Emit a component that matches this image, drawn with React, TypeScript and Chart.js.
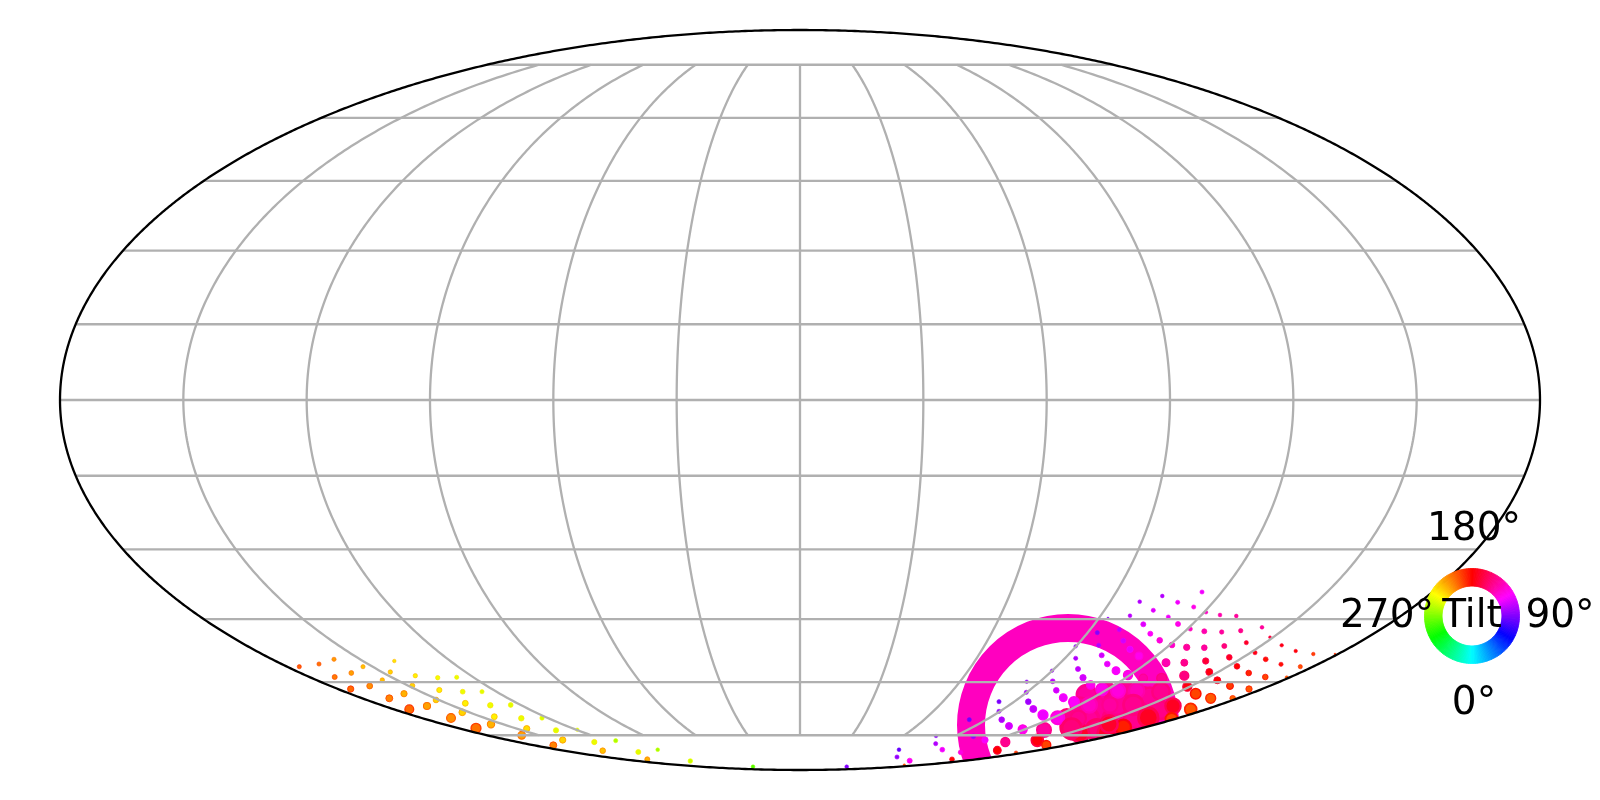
import React, { useEffect, useRef } from "react";
import { Chart, registerables } from "chart.js";

Chart.register(...registerables);

// Sky plane coordinates: [x, y, marker radius, tilt in degrees]
type Row = [number, number, number, number];

const longitudes = [-150, -120, -90, -60, -30, 0, 30, 60, 90, 120, 150];
const latitudes = [-75, -60, -45, -30, -15, 0, 15, 30, 45, 60, 75];
const tiltLabels = ["180°", "270°", "Tilt", "90°", "0°"];

const largeSource: Row[] = [[268, -325, 97, 135]];

const clusterCore: Row[] = [
  [290, -303.3, 11.7, 150], [273.3, -326.7, 11.7, 155], [303.3, -310, 13, 148],
  [316.7, -320, 13, 150], [336.7, -303.3, 12.7, 148], [346.7, -306.7, 10, 150],
  [286.7, -320, 11.7, 148], [296.7, -330, 10, 155], [336.7, -326.7, 10, 158],
  [330, -313.3, 10, 148], [286.7, -295, 9.3, 146], [306.7, -291.7, 8.7, 146],
  [326.7, -291.7, 8.7, 148], [343.3, -298.3, 10.2, 148], [266.7, -316.7, 7.2, 152],
  [280, -306.7, 8.7, 148], [316.7, -303.3, 11.6, 148], [360, -310, 8.7, 152],
  [336.7, -316.7, 11.6, 150], [306.7, -333.3, 8.7, 158], [280, -333.3, 8.7, 158],
  [350, -296.7, 8.7, 148],
];

const eastSources: Row[] = [
  [402, -192, 2, 120], [362.3, -196, 1.8, 105], [339.7, -201.7, 1.8, 105], [377.7, -202.3, 2, 120],
  [393.7, -207, 2, 128], [353.3, -210.3, 2, 116], [330, -215.7, 1.8, 107], [406, -212.3, 1.7, 136],
  [420, -215, 1.8, 142], [436.3, -216, 1.8, 146], [368.3, -217, 2, 120], [308, -218.3, 1.2, 98],
  [343.3, -224.3, 2.4, 116], [378, -224, 2.4, 128], [390.3, -229, 2, 138], [404.3, -231.3, 2.4, 142],
  [421.7, -232, 2.1, 146], [440.7, -230.7, 2.1, 150], [462, -227.3, 1.8, 146], [319.3, -229.7, 2, 109],
  [297.3, -232.7, 2, 95], [350.3, -233.7, 2.4, 124], [359.7, -240.3, 2.7, 131], [470, -237.3, 1.4, 157],
  [446.3, -242.7, 2, 161], [424.3, -246, 2.4, 154], [404.3, -247.7, 2.7, 146], [386.7, -247.3, 3, 146],
  [372, -245, 2.7, 135], [323.3, -240.7, 2.4, 113], [298.7, -245.3, 2, 105], [275.7, -246.3, 1.7, 98],
  [330, -249.3, 3, 118], [481.7, -245.3, 1.7, 165], [495.7, -251, 1.7, 169], [513.3, -254, 1.7, 184],
  [455, -252.7, 2, 165], [465.7, -259.3, 2.3, 172], [481, -264.3, 2, 172], [500.3, -266.7, 2, 188],
  [429.3, -257.3, 2.7, 161], [405.7, -261, 3, 157], [384.3, -262.7, 3.3, 150], [366, -262.7, 3.7, 142],
  [339, -256, 3.7, 128], [301.7, -255.3, 2.4, 113], [275.7, -258.3, 2, 105], [307.3, -264, 2.7, 118],
  [316, -270.7, 3.7, 122], [328, -275, 4.3, 128], [278, -269, 2.4, 109], [252, -270.7, 1.7, 98],
  [437, -266.3, 2.7, 169], [448.7, -273, 2.7, 177], [465.3, -277, 2.7, 184], [486.7, -277.3, 1.5, 191],
  [409.3, -272, 3.3, 165], [384.3, -275.7, 4.3, 154], [417.3, -280.3, 3.3, 169], [430, -286, 3.3, 182],
  [449, -289, 3, 188], [432.7, -298.3, 2.7, 191], [283, -277.7, 3, 113], [226.7, -281.7, 1.7, 98],
  [252.7, -281.3, 2.3, 107], [290.7, -285, 4, 127], [256.3, -290.3, 2.7, 113], [226.3, -292.3, 2, 101],
  [263.3, -297.7, 3.7, 120], [302, -289.3, 5.7, 128], [318, -290.7, 6.7, 132], [336.7, -290.7, 7.3, 140],
  [343.3, -278.3, 4, 145], [361.7, -278.3, 4.7, 150], [361, -291.7, 8.3, 150], [387.3, -286.7, 4.3, 165],
  [395.7, -293.7, 5, 184], [410.7, -298.3, 4.7, 189], [390.7, -309.3, 5.7, 189], [373, -306, 7.3, 160],
  [371.7, -319.3, 6, 185], [274, -302, 5, 125], [228.3, -301.7, 2.7, 101], [199, -301.7, 2, 92],
  [199, -311.3, 2, 98], [233.3, -309, 3.3, 110], [243, -315, 4.7, 120], [257.7, -317.7, 6.3, 128],
  [289.3, -305, 7.3, 138], [310, -305, 7.3, 146], [333.3, -305, 9.3, 150], [348.3, -317.7, 9.3, 160],
  [323.3, -327.3, 7.3, 175], [309, -324, 8.3, 158], [278.3, -318.3, 7.3, 150], [271.7, -328.3, 9.3, 155],
  [201.7, -319.7, 2.7, 105], [169.3, -319.7, 2, 90], [209, -326, 3.3, 113], [222.7, -329.3, 4.3, 127],
  [244, -330, 6.7, 146], [237.3, -340.3, 5.7, 165], [246.3, -345, 4.3, 184], [205.3, -342, 4.3, 150],
  [185, -340, 3, 122], [173.3, -336.3, 2.3, 100], [136, -336, 1.7, 95], [135.7, -343.7, 2, 105],
  [142.3, -349.7, 2.3, 120], [160.7, -352.3, 2.3, 130], [197.3, -350.3, 3.7, 168], [216, -352.7, 1.7, 185],
  [152, -359.3, 2.3, 170], [535, -254, 1, 185],
];

const southSources: Row[] = [
  [99, -349.7, 1.8, 87], [97, -357, 2, 98], [109.7, -360.7, 2.4, 125], [104.3, -365, 1.2, 190],
  [46.7, -366.7, 1.8, 94], [-47, -366.7, 1.8, 268], [-109.7, -361, 2.2, 242], [-142.3, -349.7, 1.8, 250],
  [-152.7, -359.3, 2.4, 210], [-161.7, -352, 2.4, 236], [-184.3, -340.7, 2, 248], [-197.3, -350.7, 2.7, 214],
  [-205.7, -342, 2.5, 234],
];

const westSources: Row[] = [
  [-500.7, -266.7, 2, 191], [-481, -264, 2, 195], [-466, -259.3, 2, 205], [-405.7, -261, 1.7, 222],
  [-437, -266.7, 2, 214], [-409.7, -272, 2.1, 218], [-465.3, -277, 2.4, 197], [-448.7, -273, 2.3, 206],
  [-417.7, -280, 2.1, 214], [-384.7, -275.7, 2.1, 225], [-362.3, -277.7, 2.1, 231], [-343.3, -277.3, 2, 234],
  [-449.3, -289, 3, 193], [-430.3, -286, 2.8, 202], [-387.7, -285.7, 2.4, 218], [-360.7, -290, 2.5, 225],
  [-337.3, -291.7, 2.3, 233], [-318, -291.7, 2, 236], [-410.7, -298.3, 3.3, 199], [-396, -293.7, 3, 210],
  [-364, -300, 2.7, 218], [-334.7, -303.3, 2.8, 225], [-309.7, -305.3, 2.6, 233], [-289.3, -305, 2.3, 236],
  [-390.7, -309.3, 4.2, 193], [-373, -306, 3.4, 206], [-337.7, -312.3, 3.2, 218], [-349, -318, 4.2, 202],
  [-305.7, -316.7, 2.8, 225], [-278.7, -318.3, 2.6, 234], [-258, -318, 2.1, 238], [-324, -328.3, 4.7, 195],
  [-309, -324.3, 3.5, 210], [-273.3, -328.7, 3, 220], [-244, -330.3, 2.5, 236], [-222.7, -329.7, 1.7, 240],
  [-278.3, -335.3, 3.7, 206], [-237.3, -340, 3, 218], [-246.7, -345.3, 3.3, 199],
];

const SEMI_X = 740;
const SEMI_Y = 370;
const RAD = Math.PI / 180;

const tiltColor = (tilt: number) => `hsl(${(180 + tilt) % 360}, 100%, 50%)`;

// Mollweide auxiliary angle
function auxAngle(lat: number): number {
  const target = Math.PI * Math.sin(lat * RAD);
  let theta = lat * RAD;
  for (let i = 0; i < 40; i++) {
    const denom = 2 + 2 * Math.cos(2 * theta);
    if (Math.abs(denom) < 1e-9) break;
    theta -= (2 * theta + Math.sin(2 * theta) - target) / denom;
  }
  return theta;
}

function project(lon: number, lat: number) {
  const t = auxAngle(lat);
  return { x: (SEMI_X * lon * Math.cos(t)) / 180, y: SEMI_Y * Math.sin(t) };
}

function sweep(from: number, to: number, step: number): number[] {
  const out: number[] = [];
  for (let v = from; v <= to + 1e-9; v += step) out.push(v);
  return out;
}

// a tiny tension keeps Chart.js off its integer-snapped fast line path
const lineBase = { showLine: true, pointRadius: 0, tension: 0.001, borderJoinStyle: "round", fill: false, clip: false, parsing: false };

function App() {
  const mapRef = useRef<HTMLCanvasElement>(null);
  const wheelRef = useRef<HTMLCanvasElement>(null);

  useEffect(() => {
    document.body.style.margin = "0";

    const gridSets: any[] = [];
    for (const lon of longitudes) {
      gridSets.push({
        ...lineBase,
        data: sweep(-75, 75, 1).map((lat) => project(lon, lat)),
        borderColor: "#b0b0b0",
        borderWidth: 2.3,
        order: 2,
      });
    }
    for (const lat of latitudes) {
      gridSets.push({
        ...lineBase,
        data: [project(-180, lat), project(180, lat)],
        borderColor: "#b0b0b0",
        borderWidth: 2.3,
        order: 2,
      });
    }

    const outline = {
      ...lineBase,
      data: sweep(0, 360, 0.5).map((a) => ({
        x: SEMI_X * Math.cos(a * RAD),
        y: SEMI_Y * Math.sin(a * RAD),
      })),
      borderColor: "#000000",
      borderWidth: 2.3,
      order: 1,
    };

    const rows = [...clusterCore, ...eastSources, ...southSources, ...westSources];
    const sources = {
      data: rows.map(([x, y]) => ({ x, y })),
      pointRadius: rows.map(([, , r]) => r * 1.05),
      pointBorderWidth: rows.map(([, , r]) => r * 0.3),
      pointBorderColor: rows.map(([, , , t]) => tiltColor(t)),
      pointBackgroundColor: rows.map(([, , , t]) => tiltColor(t > 155 ? t + 12 : t - 4)),
      showLine: false,
      clip: false,
      parsing: false,
      order: 3,
      isMark: true,
    };

    const ring = {
      data: largeSource.map(([x, y]) => ({ x, y })),
      pointRadius: largeSource.map(([, , r]) => r),
      pointBorderWidth: largeSource.map(() => 28),
      pointBorderColor: largeSource.map(([, , , t]) => tiltColor(t)),
      pointBackgroundColor: "rgba(0,0,0,0)",
      showLine: false,
      clip: false,
      parsing: false,
      order: 4,
      isMark: true,
    };

    const clipToMap = {
      id: "clipToMap",
      beforeDatasetDraw(chart: any, args: any) {
        if (!chart.data.datasets[args.index].isMark) return;
        const { ctx, scales } = chart;
        const cx = scales.x.getPixelForValue(0);
        const cy = scales.y.getPixelForValue(0);
        const rx = scales.x.getPixelForValue(SEMI_X) - cx;
        const ry = cy - scales.y.getPixelForValue(SEMI_Y);
        ctx.save();
        ctx.beginPath();
        ctx.ellipse(cx, cy, rx, ry, 0, 0, Math.PI * 2);
        ctx.clip();
      },
      afterDatasetDraw(chart: any, args: any) {
        if (chart.data.datasets[args.index].isMark) chart.ctx.restore();
      },
    };

    const map = new Chart(mapRef.current!, {
      type: "scatter",
      data: { datasets: [outline, ...gridSets, sources, ring] as any },
      options: {
        animation: false,
        responsive: false,
        events: [],
        layout: { padding: 0, autoPadding: false },
        plugins: { legend: { display: false }, tooltip: { enabled: false } },
        scales: {
          x: { type: "linear", min: -800, max: 800, display: false },
          y: { type: "linear", min: -400, max: 400, display: false },
        },
      },
      plugins: [clipToMap],
    });

    const wedgeTilts = sweep(0, 358, 2).map((v) => 360 - v);
    const wedgeColors = wedgeTilts.map(tiltColor);

    const wheelLabels = {
      id: "wheelLabels",
      afterDraw(chart: any) {
        const { ctx, chartArea } = chart;
        const cx = (chartArea.left + chartArea.right) / 2;
        const cy = (chartArea.top + chartArea.bottom) / 2;
        const offsets: [number, number][] = [[2, -86], [-85, 1], [0, 1], [88, 1], [2, 88]];
        ctx.save();
        ctx.font = '39px "DejaVu Sans"';
        ctx.fillStyle = "#000000";
        ctx.textAlign = "center";
        ctx.textBaseline = "middle";
        tiltLabels.forEach((label, i) => {
          ctx.fillText(label, cx + offsets[i][0], cy + offsets[i][1]);
        });
        ctx.restore();
      },
    };

    const wheel = new Chart(wheelRef.current!, {
      type: "doughnut",
      data: {
        labels: wedgeTilts.map(String),
        datasets: [{
          data: wedgeTilts.map(() => 1),
          backgroundColor: wedgeColors,
          borderColor: wedgeColors,
          borderWidth: 1,
        }],
      },
      options: {
        animation: false,
        responsive: false,
        events: [],
        rotation: 180,
        cutout: "63%",
        layout: { padding: { left: 1424, right: 80, top: 568, bottom: 136 }, autoPadding: false },
        plugins: { legend: { display: false }, tooltip: { enabled: false } },
      },
      plugins: [wheelLabels],
    });

    return () => {
      map.destroy();
      wheel.destroy();
    };
  }, []);

  const canvasStyle: React.CSSProperties = { position: "absolute", left: 0, top: 0, width: 1600, height: 800 };
  return (
    <div style={{ position: "relative", width: 1600, height: 800, background: "#ffffff", overflow: "hidden" }}>
      <canvas ref={mapRef} width={1600} height={800} style={canvasStyle} />
      <canvas ref={wheelRef} width={1600} height={800} style={canvasStyle} />
    </div>
  );
}

export default App;
